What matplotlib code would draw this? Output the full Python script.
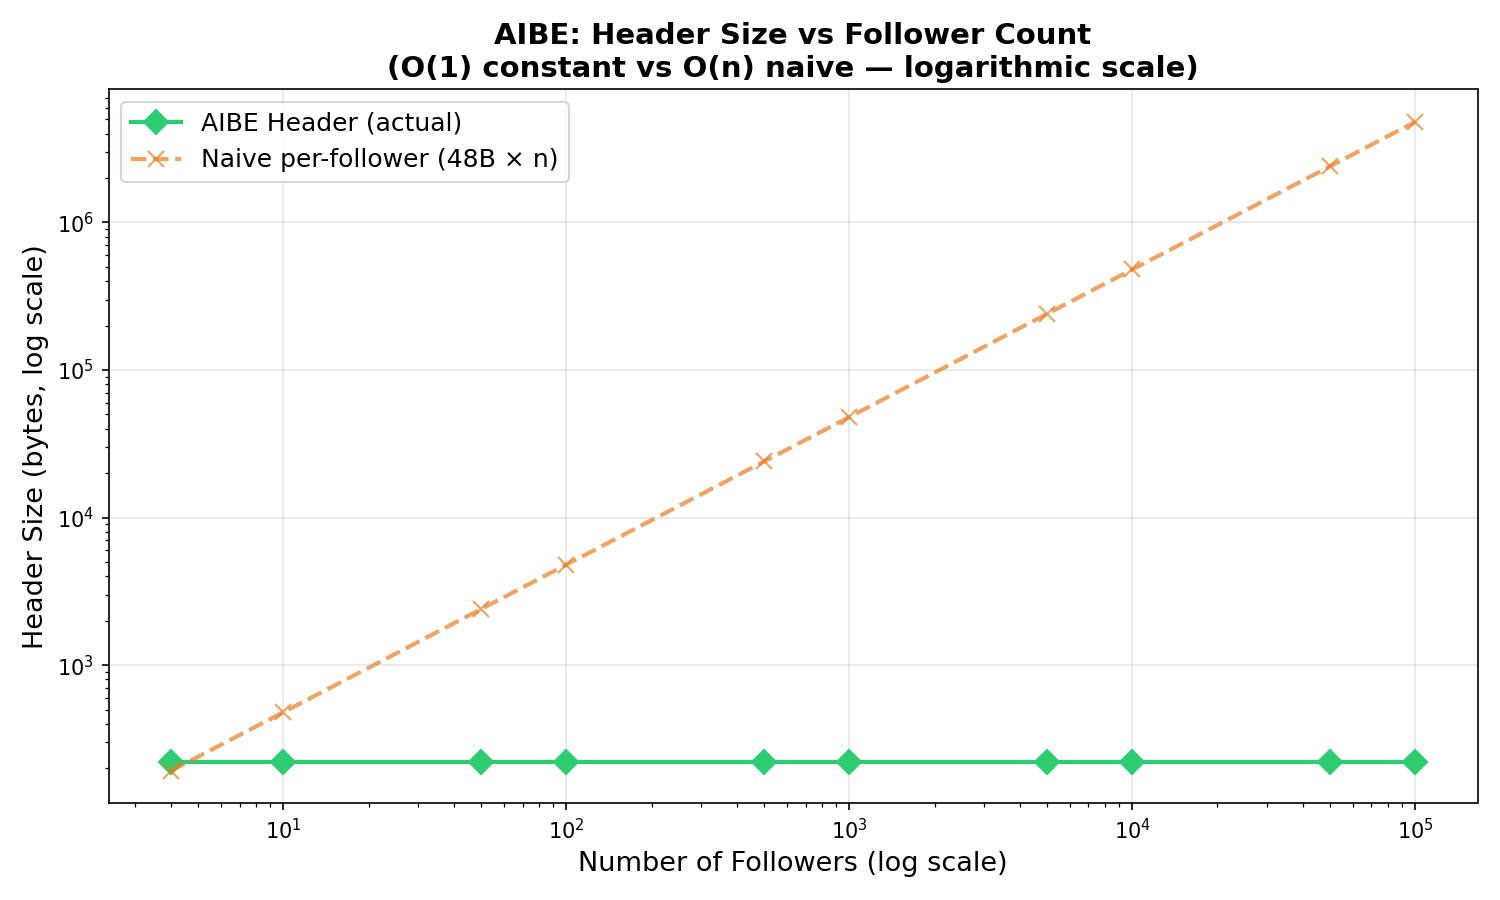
import matplotlib
matplotlib.use("Agg")
import matplotlib.pyplot as plt

followers = [4, 10, 50, 100, 500, 1000, 5000, 10000, 50000, 100000]
aibe_header = [220, 220, 220, 220, 220, 220, 220, 220, 220, 220]
naive_header = [192, 480, 2400, 4800, 24000, 48000, 240000, 480000, 2400000, 4800000]

fig, ax = plt.subplots(figsize=(10, 6), dpi=150)

ax.plot(followers, aibe_header, marker='D', color='#2ecc71', linewidth=2,
        markersize=8, label='AIBE Header (actual)')
ax.plot(followers, naive_header, marker='x', linestyle='--', color='#e67e22',
        linewidth=2, markersize=8, alpha=0.7, label='Naive per-follower (48B × n)')

ax.set_xscale('log')
ax.set_yscale('log')
ax.set_xlabel('Number of Followers (log scale)', fontsize=13)
ax.set_ylabel('Header Size (bytes, log scale)', fontsize=13)
ax.set_title('AIBE: Header Size vs Follower Count\n(O(1) constant vs O(n) naive — logarithmic scale)',
             fontsize=14, fontweight='bold')
ax.legend(fontsize=12, loc='upper left')
ax.grid(True, alpha=0.3)

plt.tight_layout()
plt.savefig('out.png', dpi=150)
